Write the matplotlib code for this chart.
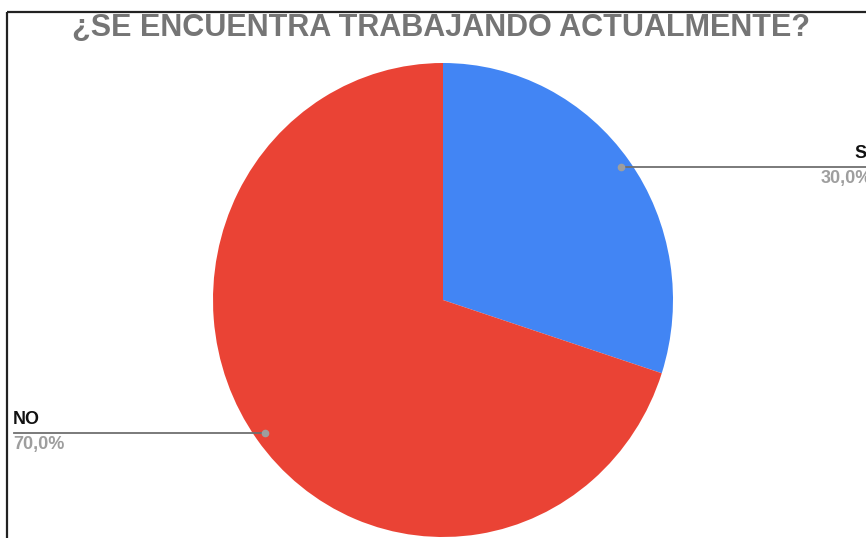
import matplotlib.pyplot as plt
import numpy as np

# data
labels = ['SI', 'NO']
values = [30, 70]
pct_labels = ['30,0%', '70,0%']
colors = ['#4285F4', '#EA4335']
title = '¿SE ENCUENTRA TRABAJANDO ACTUALMENTE?'

W, H = 866, 538
k = 237 / 230  # the source image is slightly stretched vertically
fig = plt.figure(figsize=(W / 100, H / 100), dpi=100)
ax = fig.add_axes([0, 0, 1, 1])


def yd(y_px):
    # pixel row (from top) -> data y
    return (H - y_px) / k


cx, cy, R = 443, yd(300), 230
wedges, _ = ax.pie(values, colors=colors, startangle=90, counterclock=False,
                   center=(cx, cy), radius=R, frame=True,
                   wedgeprops=dict(linewidth=0))
ax.set_xlim(0, W)
ax.set_ylim(0, H / k)
ax.set_aspect('auto')
ax.axis('off')

# border (top and left)
ax.plot([7, W], [yd(12), yd(12)], color='#222222', lw=1.6, solid_capstyle='butt')
ax.plot([7, 7], [0, yd(12)], color='#222222', lw=1.6, solid_capstyle='butt')

ax.text(441, yd(28), title, ha='center', va='center', fontsize=22,
        fontweight='bold', color='#757575', family='Liberation Sans')

# leader lines and labels
for i, w in enumerate(wedges):
    mid = np.deg2rad((w.theta1 + w.theta2) / 2)
    px = cx + 0.955 * R * np.cos(mid)
    py = cy + 0.955 * R * np.sin(mid)
    ax.plot(px, py, 'o', color='#9e9e9e', ms=4.5, zorder=5)
    if np.cos(mid) > 0:
        ax.plot([px, W], [py, py], color='#6f6f6f', lw=1.3, zorder=4)
        x_t, ha = 872, 'right'
    else:
        ax.plot([14, px], [py, py], color='#6f6f6f', lw=1.3, zorder=4)
        x_t, ha = 13, 'left'
    ax.text(x_t, py + 5, labels[i], ha=ha, va='bottom', fontsize=13,
            fontweight='bold', color='#111111', family='Liberation Sans')
    ax.text(x_t, py - 3, pct_labels[i], ha=ha, va='top', fontsize=13,
            fontweight='bold', color='#9e9e9e', family='Liberation Sans')

fig.savefig('out.png', dpi=100, facecolor='white')
